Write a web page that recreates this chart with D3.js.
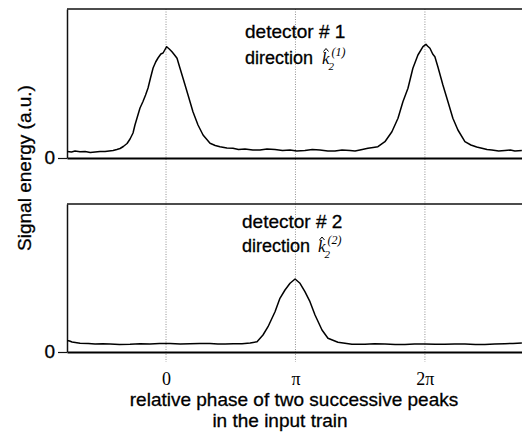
<!DOCTYPE html>
<html>
<head>
<meta charset="utf-8">
<script src="https://cdn.jsdelivr.net/npm/d3@7"></script>
<style>
  body { margin: 0; background: #fff; }
  text { font-family: "Liberation Sans", Arial, sans-serif; }
  .sans { stroke: #000; stroke-width: 0.3; }
  .math { font-family: "Liberation Serif", "Times New Roman", serif; font-style: italic; }
</style>
</head>
<body>
<script>
var w = 522;
var h = 433;

// phase in units of pi, signal in a.u.
var det1Phase = [-0.764, -0.73, -0.703, -0.665, -0.625, -0.585, -0.548, -0.51, -0.471, -0.44, -0.409, -0.38, -0.355, -0.33, -0.301, -0.278, -0.255, -0.24, -0.224, -0.201, -0.178, -0.158, -0.139, -0.12, -0.100, -0.08, -0.062, -0.04, -0.023, 0.005, 0.025, 0.046, 0.066, 0.085, 0.108, 0.147, 0.170, 0.208, 0.247, 0.286, 0.340, 0.38, 0.417, 0.47, 0.517, 0.56, 0.610, 0.67, 0.726, 0.78, 0.842, 0.90, 0.958, 1.01, 1.073, 1.13, 1.189, 1.25, 1.305, 1.36, 1.421, 1.46, 1.498, 1.560, 1.60, 1.637, 1.691, 1.745, 1.792, 1.830, 1.869, 1.907, 1.946, 1.985, 2.008, 2.02, 2.039, 2.06, 2.077, 2.100, 2.139, 2.178, 2.216, 2.255, 2.309, 2.355, 2.40, 2.440, 2.48, 2.517, 2.57, 2.618, 2.66, 2.695, 2.749];
var det1Signal = [0.065, 0.06, 0.07, 0.062, 0.065, 0.055, 0.06, 0.065, 0.065, 0.07, 0.075, 0.085, 0.095, 0.115, 0.145, 0.19, 0.25, 0.33, 0.40, 0.50, 0.565, 0.63, 0.70, 0.80, 0.90, 0.96, 1.00, 1.04, 1.05, 1.113, 1.09, 1.063, 1.03, 0.997, 0.897, 0.73, 0.63, 0.463, 0.33, 0.23, 0.147, 0.125, 0.113, 0.1, 0.097, 0.085, 0.09, 0.08, 0.08, 0.09, 0.085, 0.075, 0.08, 0.07, 0.075, 0.085, 0.08, 0.07, 0.07, 0.08, 0.075, 0.07, 0.08, 0.097, 0.105, 0.113, 0.163, 0.263, 0.397, 0.563, 0.697, 0.897, 1.03, 1.113, 1.137, 1.12, 1.097, 1.04, 1.013, 0.913, 0.73, 0.563, 0.397, 0.28, 0.163, 0.13, 0.11, 0.097, 0.085, 0.08, 0.07, 0.075, 0.08, 0.07, 0.075];

var det2Phase = [-0.764, -0.745, -0.726, -0.664, -0.6, -0.548, -0.49, -0.432, -0.36, -0.278, -0.2, -0.124, -0.05, 0.031, 0.11, 0.185, 0.26, 0.340, 0.40, 0.456, 0.52, 0.587, 0.65, 0.703, 0.749, 0.788, 0.842, 0.880, 0.919, 0.958, 0.997, 1.035, 1.073, 1.112, 1.151, 1.205, 1.251, 1.328, 1.436, 1.537, 1.61, 1.691, 1.77, 1.846, 1.92, 2.000, 2.08, 2.154, 2.23, 2.309, 2.39, 2.463, 2.54, 2.618, 2.68, 2.749];
var det2Signal = [0.115, 0.11, 0.10, 0.087, 0.085, 0.08, 0.083, 0.08, 0.075, 0.077, 0.082, 0.08, 0.085, 0.085, 0.08, 0.083, 0.085, 0.085, 0.08, 0.08, 0.083, 0.083, 0.09, 0.103, 0.17, 0.253, 0.403, 0.537, 0.62, 0.687, 0.73, 0.687, 0.603, 0.503, 0.37, 0.22, 0.137, 0.097, 0.077, 0.077, 0.082, 0.08, 0.075, 0.075, 0.08, 0.08, 0.077, 0.077, 0.08, 0.08, 0.075, 0.075, 0.08, 0.083, 0.085, 0.09];

var xTicks = [0, 1, 2];
var xTickLabels = ["0", "\u03c0", "2\u03c0"];
var panelTitles = ["detector # 1", "detector # 2"];
var panelSup = ["(1)", "(2)"];

var svg = d3.select("body")
  .append("svg")
  .attr("width", w)
  .attr("height", h);

var x = d3.scaleLinear().domain([-0.765, 2.75]).range([67, 522]);
var yTop = d3.scaleLinear().domain([0, 1.49]).range([158, 9]);
var yBot = d3.scaleLinear().domain([0, 1.48]).range([352, 204]);

// dotted guides through both panels
svg.selectAll(".guide")
  .data(xTicks)
  .enter()
  .append("line")
  .attr("x1", function (d) { return x(d); })
  .attr("x2", function (d) { return x(d); })
  .attr("y1", 9)
  .attr("y2", 362)
  .attr("stroke", "#777")
  .attr("stroke-width", 0.8)
  .attr("stroke-dasharray", "1,1.5");

var panels = [
  { y: yTop, px: det1Phase, sig: det1Signal, lx: 245, l1: 37.5, l2: 63.5, kx: 322 },
  { y: yBot, px: det2Phase, sig: det2Signal, lx: 242, l1: 228, l2: 252, kx: 318 }
];

panels.forEach(function (p, k) {
  var y = p.y;
  var y0 = y.range()[0], y1 = y.range()[1];

  // top border
  svg.append("line")
    .attr("x1", 67).attr("x2", w)
    .attr("y1", y1).attr("y2", y1)
    .attr("stroke", "#111").attr("stroke-width", 1.5);

  // left axis with the single 0 tick
  var ya = svg.append("g")
    .attr("transform", "translate(67,0)")
    .call(d3.axisLeft(y).tickValues([0]).tickSize(9).tickSizeOuter(0).tickPadding(3)
      .tickFormat(function () { return "0"; }));
  ya.select(".domain").attr("stroke", "#111").attr("stroke-width", 1.5);
  ya.selectAll(".tick line").attr("stroke", "#111").attr("stroke-width", 1.2);
  ya.selectAll("text")
    .attr("class", "sans")
    .style("font-family", "Liberation Sans, Arial, sans-serif")
    .style("font-size", "19px")
    .attr("fill", "#000")
    .attr("dy", "0.3em");

  // bottom axis line
  var xa = svg.append("g")
    .attr("transform", "translate(0," + y0 + ")")
    .call(d3.axisBottom(x).tickValues(k === 1 ? xTicks : []).tickSize(0).tickSizeOuter(0).tickPadding(20)
      .tickFormat(function (d, i) { return xTickLabels[i]; }));
  xa.select(".domain").attr("stroke", "#000").attr("stroke-width", 2.2);
  xa.selectAll("text")
    .style("font-family", "Liberation Serif, Times New Roman, serif")
    .style("font-size", "18px")
    .attr("fill", "#000");

  // signal trace
  var data = p.px.map(function (v, i) { return [v, p.sig[i]]; });
  var line = d3.line()
    .x(function (d) { return x(d[0]); })
    .y(function (d) { return y(d[1]); });
  svg.append("path")
    .datum(data)
    .attr("d", line)
    .attr("fill", "none")
    .attr("stroke", "#000")
    .attr("stroke-width", 1.5)
    .attr("stroke-linejoin", "round");

  // panel labels
  svg.append("text")
    .attr("class", "sans")
    .attr("x", p.lx).attr("y", p.l1)
    .attr("font-size", 19)
    .text(panelTitles[k]);
  svg.append("text")
    .attr("class", "sans")
    .attr("x", p.lx).attr("y", p.l2)
    .attr("font-size", 18)
    .text("direction");

  // k-hat with sub 2 and superscript
  svg.append("text").attr("class", "math")
    .attr("x", p.kx).attr("y", p.l2)
    .attr("font-size", 17)
    .text("k");
  svg.append("text").attr("class", "math")
    .attr("x", p.kx + 6.5).attr("y", p.l2 + 6)
    .attr("font-size", 11)
    .text("2");
  svg.append("text").attr("class", "math")
    .attr("x", p.kx + 9.5).attr("y", p.l2 - 8)
    .attr("font-size", 12)
    .text(panelSup[k]);
  svg.append("path")
    .attr("d", "M" + (p.kx + 1.5) + "," + (p.l2 - 12) + "l2.5,-3l2.5,3")
    .attr("fill", "none")
    .attr("stroke", "#000")
    .attr("stroke-width", 1);
});

// axis titles
svg.append("text")
  .attr("class", "sans")
  .attr("transform", "translate(31,168) rotate(-90)")
  .attr("text-anchor", "middle")
  .attr("font-size", 19)
  .text("Signal energy (a.u.)");

svg.append("text")
  .attr("class", "sans")
  .attr("x", 294).attr("y", 406)
  .attr("text-anchor", "middle")
  .attr("font-size", 19)
  .text("relative phase of two successive peaks");
svg.append("text")
  .attr("class", "sans")
  .attr("x", 280).attr("y", 427)
  .attr("text-anchor", "middle")
  .attr("font-size", 19)
  .text("in the input train");
</script>
</body>
</html>
